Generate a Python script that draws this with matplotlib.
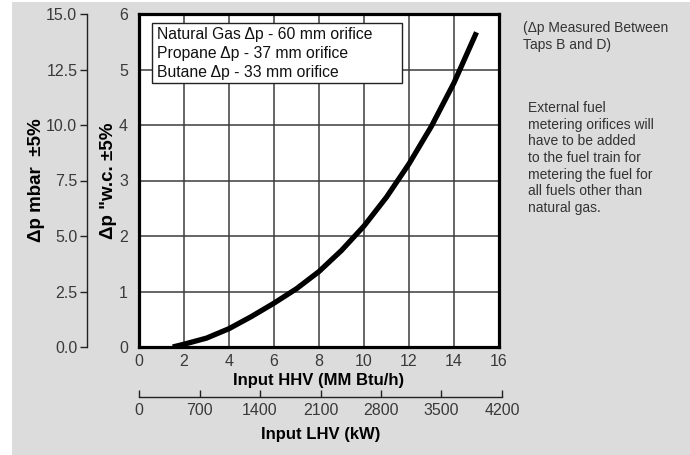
import matplotlib
matplotlib.use("Agg")
import matplotlib.pyplot as plt
from matplotlib.patches import Rectangle

plt.rcParams['font.family'] = ['Liberation Sans', 'DejaVu Sans']

# Pressure drop curve: input HHV (MM Btu/h) vs. delta-p ("w.c.)
hhv = [1.5, 2, 3, 4, 5, 6, 7, 8, 9, 10, 11, 12, 13, 14, 15]
dp_wc = [0.0, 0.05, 0.16, 0.33, 0.55, 0.79, 1.05, 1.36, 1.74, 2.18, 2.70, 3.30, 3.98, 4.76, 5.67]

hhv_ticks = [0, 2, 4, 6, 8, 10, 12, 14, 16]
wc_ticks = [0, 1, 2, 3, 4, 5, 6]
mbar_ticks = [0.0, 2.5, 5.0, 7.5, 10.0, 12.5, 15.0]
lhv_ticks = [0, 700, 1400, 2100, 2800, 3500, 4200]

orifice_lines = [
    "Natural Gas \u0394p - 60 mm orifice",
    "Propane \u0394p - 37 mm orifice",
    "Butane \u0394p - 33 mm orifice",
]
note_top = "(\u0394p Measured Between\nTaps B and D)"
note_body = ("External fuel\nmetering orifices will\nhave to be added\n"
             "to the fuel train for\nmetering the fuel for\n"
             "all fuels other than\nnatural gas.")

W, H = 690, 455
fig = plt.figure(figsize=(W / 100, H / 100), dpi=100)
fig.patch.set_facecolor('white')

# grey panel behind everything
fig.patches.append(Rectangle((12 / W, 0), 1 - 12 / W, 1 - 2 / H,
                             transform=fig.transFigure, facecolor='#dcdcdc',
                             edgecolor='none', zorder=-10))

tick_col = '#3a3a3a'


def fx(px):
    return px / W


def fy(py):
    return 1 - py / H


# main plot
ax_l, ax_r, ax_t, ax_b = 139, 499, 14, 347
ax = fig.add_axes([fx(ax_l), fy(ax_b), fx(ax_r - ax_l), (ax_b - ax_t) / H])
ax.set_facecolor('white')
ax.plot(hhv, dp_wc, color='black', lw=3.8, solid_capstyle='butt',
        solid_joinstyle='round', zorder=5)
ax.set_xlim(0, 16)
ax.set_ylim(0, 6)
ax.set_xticks(hhv_ticks)
ax.set_yticks(wc_ticks)
ax.grid(True, color='#3c3c3c', lw=1.1)
ax.set_axisbelow(True)
for s in ax.spines.values():
    s.set_linewidth(2.3)
    s.set_color('black')
ax.tick_params(axis='x', length=0, labelsize=11.5, labelcolor=tick_col, pad=5)
ax.tick_params(axis='y', length=0, labelsize=11.5, labelcolor=tick_col, pad=8)
ax.set_xlabel("Input HHV (MM Btu/h)", fontsize=12, fontweight='bold',
              labelpad=3)
ax.set_ylabel("\u0394p \"w.c. \u00b15%", fontsize=13.5, fontweight='bold',
              labelpad=1.5)

# orifice box
bx0, by0, bx1, by1 = 152, 23, 402, 83
ax.add_patch(Rectangle(((bx0 - ax_l) / (ax_r - ax_l), (ax_b - by1) / (ax_b - ax_t)),
                       (bx1 - bx0) / (ax_r - ax_l), (by1 - by0) / (ax_b - ax_t),
                       transform=ax.transAxes, facecolor='white',
                       edgecolor='#222222', lw=1.0, zorder=6))
for i, line in enumerate(orifice_lines):
    yc = 34 + i * 19.5
    ax.text((157 - ax_l) / (ax_r - ax_l), (ax_b - yc) / (ax_b - ax_t), line,
            transform=ax.transAxes, ha='left', va='center', fontsize=11.3,
            color='#111111', zorder=7)

# mbar scale on the far left
mb = fig.add_axes([fx(87), fy(ax_b), 0.001, (ax_b - ax_t) / H])
mb.set_facecolor('none')
for k in ('top', 'right', 'bottom'):
    mb.spines[k].set_visible(False)
mb.spines['left'].set_linewidth(1.0)
mb.spines['left'].set_color('#222222')
mb.set_ylim(0, 15)
mb.set_yticks(mbar_ticks)
mb.set_yticklabels([f"{v:.1f}" for v in mbar_ticks])
mb.set_xticks([])
mb.tick_params(axis='y', direction='out', length=5, width=1.0,
               color='#222222', labelsize=11.5, labelcolor=tick_col, pad=2)
mb.set_ylabel("\u0394p mbar  \u00b15%", fontsize=13.5, fontweight='bold',
              labelpad=1)

# LHV scale below
lx = fig.add_axes([fx(139), fy(397), fx(502 - 139), 0.001])
lx.set_facecolor('none')
for k in ('top', 'right', 'left'):
    lx.spines[k].set_visible(False)
lx.spines['bottom'].set_linewidth(1.0)
lx.spines['bottom'].set_color('#222222')
lx.set_xlim(0, 4200)
lx.set_xticks(lhv_ticks)
lx.set_yticks([])
lx.tick_params(axis='x', direction='in', length=5, width=1.0,
               color='#222222', labelsize=11.5, labelcolor=tick_col, pad=4)
lx.set_xlabel("Input LHV (kW)", fontsize=12, fontweight='bold', labelpad=7)

# notes on the right
fig.text(fx(523), fy(21), note_top, ha='left', va='top', fontsize=10,
         color='#333333', linespacing=1.24)
fig.text(fx(528), fy(101), note_body, ha='left', va='top', fontsize=10,
         color='#333333', linespacing=1.24)

fig.savefig("out.png", dpi=100, facecolor='white')
